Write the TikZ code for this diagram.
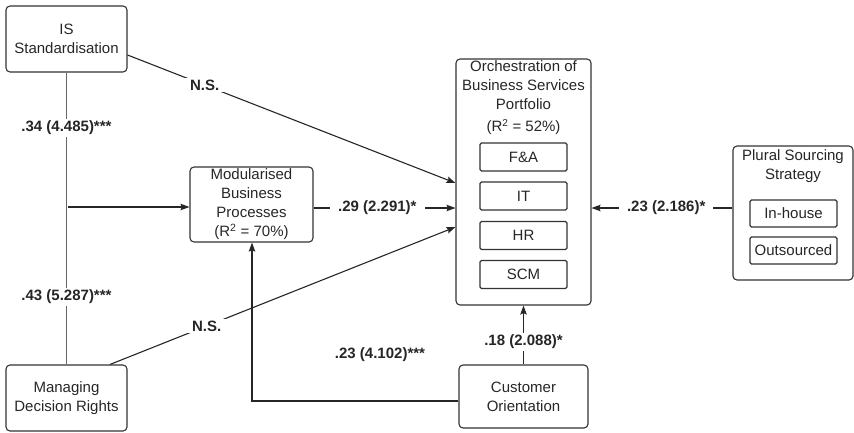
\documentclass[tikz,border=0pt]{standalone}
\usepackage{fontspec}
\setmainfont{Liberation Sans}
\usetikzlibrary{arrows.meta,calc}
\tikzset{
  base/.style={font=\fontsize{15}{19}\selectfont, text=black!85},
  outer/.style={base, draw=black!80, line width=1.1pt, rounded corners=4pt, align=center, inner sep=0pt},
  inner/.style={base, draw=black!80, line width=1.1pt, rounded corners=1.5pt, align=center, inner sep=0pt, minimum width=87pt},
  lbl/.style={base, font=\fontsize{15}{19}\selectfont\bfseries, fill=white, inner xsep=8pt, inner ysep=2pt},
  conn/.style={draw=black!85, line width=1.1pt},
  arr/.style={conn, -{Stealth[length=9pt,width=6.5pt,inset=1.5pt]}},
  thin/.style={draw=black!60, line width=0.9pt}
}
\begin{document}
\begin{tikzpicture}[x=1pt,y=-1pt]
\useasboundingbox (0,0) rectangle (854,432);
% main boxes
\node[outer, minimum width=121pt, minimum height=66pt] (is) at (66.5,39) {IS\\Standardisation};
\node[outer, minimum width=121pt, minimum height=66pt] (mdr) at (66.5,398) {Managing\\Decision Rights};
\node[outer, minimum width=123pt, minimum height=75pt] (mod) at (251.5,204.5) {Modularised\\Business\\Processes\\(R\textsuperscript{2} = 70\%)};
\node[outer, minimum width=129pt, minimum height=63pt] (cust) at (523.5,396.5) {Customer\\Orientation};
% orchestration
\node[outer, minimum width=135pt, minimum height=246pt] (orch) at (523.5,182) {};
\node[base, align=center, anchor=north, inner sep=0pt] (orcht) at (523.5,60) {Orchestration of\\Business Services\\Portfolio};
\node[base, inner sep=0pt] (orchr) at (523.5,127) {(R\textsuperscript{\fontsize{10}{10}\selectfont 2} = 52\%)};
\node[inner, minimum height=28pt] (fa) at (523.5,157) {F\&A};
\node[inner, minimum height=28pt] (it) at (523.5,196) {IT};
\node[inner, minimum height=28pt] (hr) at (523.5,235.5) {HR};
\node[inner, minimum height=28pt] (scm) at (523.5,274.5) {SCM};
% plural sourcing
\node[outer, minimum width=120pt, minimum height=134pt] (pl) at (793,213) {};
\node[base, align=center, anchor=north, inner sep=0pt] (plt) at (793,149) {Plural Sourcing\\Strategy};
\node[inner, minimum height=27pt] (inh) at (793.5,213.5) {In-house};
\node[inner, minimum height=27pt] (outs) at (793.5,250.5) {Outsourced};
% connectors
\draw[thin] (is.south) -- node[lbl, pos=0.19] {.34 (4.485)***} node[lbl, pos=0.768] {.43 (5.287)***} (mdr.north);
\coordinate (jn) at (68,207);
\draw[arr] (jn) -- (jn -| mod.west);
\draw[arr] ([yshift=-16pt]is.east) -- node[lbl, pos=0.235] {N.S.} ([yshift=-1pt]orch.west);
\draw[arr] ([yshift=-3.5pt]mod.east) -- node[lbl, pos=0.45] {.29 (2.291)*} ([yshift=-3.5pt]mod.east -| orch.west);
\draw[arr] ([xshift=43.5pt]mdr.north) -- node[lbl, pos=0.28] {N.S.} ([yshift=-45pt]orch.west);
\draw[arr] ([yshift=-4.5pt]cust.west) -| ([xshift=0.5pt]mod.south);
\node[lbl, fill=none] (l4102) at (380,355) {.23 (4.102)***};
\draw[arr] (cust.north) -- node[lbl, pos=0.38] {.18 (2.088)*} (orch.south);
\draw[arr] ([yshift=5pt]pl.west) -- node[lbl, pos=0.47] {.23 (2.186)*} ([yshift=5pt]pl.west -| orch.east);
\end{tikzpicture}
\end{document}
